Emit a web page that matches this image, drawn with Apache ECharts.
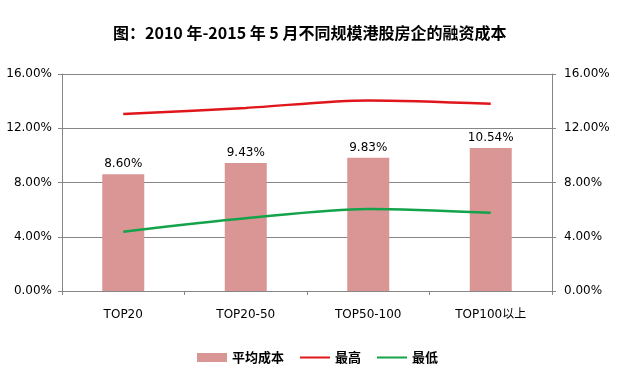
<!DOCTYPE html>
<html><head><meta charset="utf-8">
<script src="https://cdn.jsdelivr.net/npm/echarts@6/dist/echarts.min.js"></script>
<style>html,body{margin:0;padding:0;background:#fff}#c{width:635px;height:387px}</style>
</head><body><div id="c"></div>
<script>
const categories = ['TOP20', 'TOP20-50', 'TOP50-100', 'TOP100以上'];
const avgCost = [8.60, 9.43, 9.83, 10.54];
const highest = [13.05, 13.5, 14.05, 13.8];
const lowest = [4.37, 5.36, 6.05, 5.77];
const yTicks = [0, 4, 8, 12, 16];

const fontCN = '"Microsoft YaHei","Noto Sans CJK SC","DejaVu Sans",sans-serif';
const fontLbl = '"DejaVu Sans","Noto Sans CJK SC",sans-serif';
const axisCol = '#868686';
const pctFmt = v => v.toFixed(2) + '%';

const chart = echarts.init(document.getElementById('c'), null, {renderer: 'canvas'});
chart.setOption({
  animation: false,
  backgroundColor: '#fff',
  title: {
    text: '图：2010 年-2015 年 5 月不同规模港股房企的融资成本',
    left: 108, top: 20,
    textStyle: {fontFamily: fontCN, fontSize: 16, fontWeight: 'bold', color: '#000'}
  },
  legend: {
    bottom: 18, left: 'center', itemGap: 16, itemWidth: 30, itemHeight: 9,
    textStyle: {fontFamily: fontCN, fontSize: 13, fontWeight: 'bold', color: '#000'},
    data: [
      {name: '平均成本', icon: 'rect'},
      {name: '最高', icon: 'path://M0,4 L30,4 L30,6 L0,6 Z'},
      {name: '最低', icon: 'path://M0,4 L30,4 L30,6 L0,6 Z'}
    ]
  },
  grid: {left: 62, right: 83, top: 74, bottom: 96},
  xAxis: {
    type: 'category', data: categories, boundaryGap: true,
    axisLine: {lineStyle: {color: axisCol, width: 1}},
    axisTick: {show: true, length: 4, lineStyle: {color: axisCol}},
    axisLabel: {fontFamily: fontLbl, fontSize: 12, color: '#000', margin: 18}
  },
  yAxis: [
    {
      type: 'value', min: 0, max: 16, interval: 4,
      axisLine: {show: true, lineStyle: {color: axisCol}},
      axisTick: {show: true, length: 4, lineStyle: {color: axisCol}},
      splitLine: {show: true, lineStyle: {color: axisCol, width: 1}},
      axisLabel: {fontFamily: fontLbl, fontSize: 12, color: '#000', margin: 10,
        formatter: v => yTicks.includes(v) ? pctFmt(v) : ''}
    },
    {
      type: 'value', min: 0, max: 16, interval: 4, position: 'right',
      axisLine: {show: true, lineStyle: {color: axisCol}},
      axisTick: {show: true, length: 4, lineStyle: {color: axisCol}},
      splitLine: {show: false},
      axisLabel: {fontFamily: fontLbl, fontSize: 12, color: '#000', margin: 12,
        formatter: v => yTicks.includes(v) ? pctFmt(v) : ''}
    }
  ],
  series: [
    {
      name: '平均成本', type: 'bar', data: avgCost, barWidth: 42,
      itemStyle: {color: '#d99695'},
      label: {show: true, position: 'top', distance: 4, fontFamily: fontLbl, fontSize: 12,
        color: '#000', formatter: p => pctFmt(p.value)}
    },
    {
      name: '最高', type: 'line', data: highest, smooth: 0.3, symbol: 'none',
      lineStyle: {color: '#e0161b', width: 2.5}, itemStyle: {color: '#e0161b'}
    },
    {
      name: '最低', type: 'line', data: lowest, smooth: 0.3, symbol: 'none',
      lineStyle: {color: '#13a34b', width: 2.5}, itemStyle: {color: '#13a34b'}
    }
  ]
});
</script></body></html>
